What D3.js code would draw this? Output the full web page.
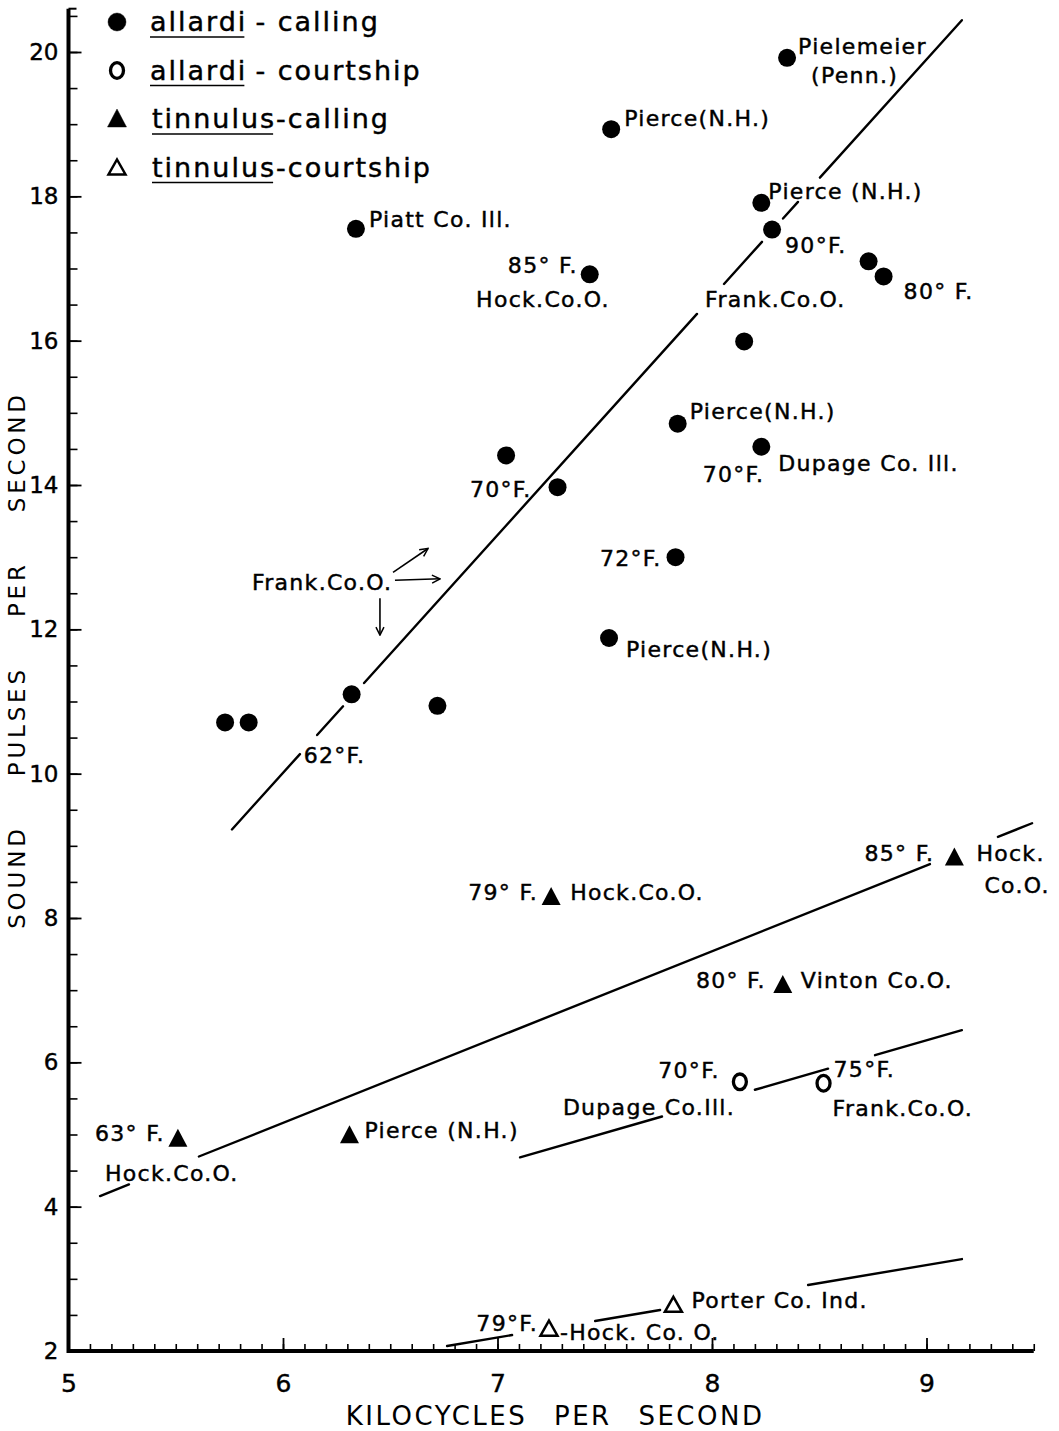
<!DOCTYPE html>
<html><head><meta charset="utf-8">
<script src="https://cdn.jsdelivr.net/npm/d3@7"></script>
<style>
html,body{margin:0;padding:0;background:#fff;}
svg{display:block;}
text{font-family:"DejaVu Sans",sans-serif;fill:#000;}
</style></head><body>
<svg id="chart" width="1059" height="1431"></svg>
<script>
// ---------------- DATA ----------------
const xTickValues = [5, 6, 7, 8, 9];
const yTickValues = [2, 4, 6, 8, 10, 12, 14, 16, 18, 20];
const xTitle = "KILOCYCLES PER SECOND";
const yTitle = "SOUND PULSES PER SECOND";

const legendSpecies = ["allardi", "allardi", "tinnulus", "tinnulus"];
const legendSong = ["calling", "courtship", "calling", "courtship"];

// allardi - calling (filled circles)
const allardiCallingX = [8.35, 7.53, 6.34, 8.23, 8.28, 7.43, 8.73, 8.80, 8.15, 7.84, 8.23, 7.04, 7.28, 7.83, 7.52, 6.32, 6.72, 5.73, 5.84];
const allardiCallingY = [19.92, 18.93, 17.55, 17.91, 17.54, 16.92, 17.10, 16.89, 15.99, 14.85, 14.53, 14.41, 13.97, 13.00, 11.88, 11.10, 10.94, 10.71, 10.71];

// allardi - courtship (open circles)
const allardiCourtX = [8.13, 8.52];
const allardiCourtY = [5.73, 5.71];

// tinnulus - calling (filled triangles)
const tinnulusCallingX = [9.13, 7.25, 8.33, 5.51, 6.31];
const tinnulusCallingY = [8.84, 8.29, 7.07, 4.94, 4.99];

// tinnulus - courtship (open triangles)
const tinnulusCourtX = [7.82, 7.24];
const tinnulusCourtY = [2.64, 2.31];

// fitted lines: end points [x, y] and the drawn pieces (x ranges)
const allardiCallingFit = [[5.763, 9.23], [9.168, 20.45]];
const allardiCallingPieces = [[5.762, 6.079], [6.159, 6.280], [6.378, 7.930], [8.056, 8.233], [8.331, 8.401], [8.503, 9.165]];
const tinnulusCallingFit = [[5.147, 4.147], [9.492, 9.313]];
const tinnulusCallingPieces = [[5.147, 5.282], [5.608, 9.016], [9.333, 9.492]];
const allardiCourtFit = [[7.105, 4.683], [9.165, 6.446]];
const allardiCourtPieces = [[7.105, 7.767], [8.200, 8.541], [8.760, 9.165]];
const tinnulusCourtFit = [[6.765, 2.069], [9.165, 3.274]];
const tinnulusCourtPieces = [[6.765, 7.068], [7.455, 7.758], [8.448, 9.165]];

// point annotations: [series, point index, text]
const annotationTexts = [
  ["ac", 0, "Pielemeier"], ["ac", 0, "(Penn.)"],
  ["ac", 1, "Pierce(N.H.)"],
  ["ac", 2, "Piatt Co. Ill."],
  ["ac", 3, "Pierce (N.H.)"],
  ["ac", 4, "90°F."], ["ac", 4, "Frank.Co.O."],
  ["ac", 5, "85° F."], ["ac", 5, "Hock.Co.O."],
  ["ac", 7, "80° F."],
  ["ac", 9, "Pierce(N.H.)"],
  ["ac", 10, "Dupage Co. Ill."], ["ac", 10, "70°F."],
  ["ac", 12, "70°F."],
  ["ac", 13, "72°F."],
  ["ac", 14, "Pierce(N.H.)"],
  ["ac", 15, "62°F."],
  ["tc", 0, "85° F."], ["tc", 0, "Hock."], ["tc", 0, "Co.O."],
  ["tc", 1, "79° F."], ["tc", 1, "Hock.Co.O."],
  ["tc", 2, "80° F."], ["tc", 2, "Vinton Co.O."],
  ["tc", 3, "63° F."], ["tc", 3, "Hock.Co.O."],
  ["tc", 4, "Pierce (N.H.)"],
  ["ao", 0, "70°F."], ["ao", 0, "Dupage Co.Ill."],
  ["ao", 1, "75°F."], ["ao", 1, "Frank.Co.O."],
  ["to", 0, "Porter Co. Ind."],
  ["to", 1, "79°F."], ["to", 1, "-Hock. Co. O."]
];
// free note with arrows (data coordinates)
const arrowNoteText = "Frank.Co.O.";
const arrowNoteAt = [5.855, 12.54];
const arrowStarts = [[6.513, 12.79], [6.522, 12.68], [6.452, 12.43]];
const arrowEnds = [[6.676, 13.12], [6.732, 12.70], [6.452, 11.92]];

// ---------------- LAYOUT (pixel offsets, styles) ----------------
const labelLayout = [
  [11, -4, "start"], [24, 25, "start"],
  [13, -3, "start"],
  [13, -2, "start"],
  [7, -4, "start"],
  [13, 23, "start"], [-67, 77, "start"],
  [-12, -1, "end"], [20, 33, "end"],
  [20, 23, "start"],
  [12, -5, "start"],
  [17, 24, "start"], [3, 35, "end"],
  [-26, 10, "end"],
  [-14, 9, "end"],
  [17, 19, "start"],
  [-48, 69, "start"],
  [-20, 4, "end"], [22, 4, "start"], [30, 36, "start"],
  [-13, 3, "end"], [19, 3, "start"],
  [-17, 3, "end"], [18, 3, "start"],
  [-13, 2, "end"], [-73, 42, "start"],
  [15, 3, "start"],
  [-20, -4, "end"], [-177, 33, "start"],
  [10, -6, "start"], [9, 33, "start"],
  [18, 3, "start"],
  [-11, 2, "end"], [11, 11, "start"]
];

const svg = d3.select("#chart");
const x = d3.scaleLinear().domain([5, 9.5]).range([68.5, 1033.75]);
const y = d3.scaleLinear().domain([2, 20]).range([1351, 52]);

const defs = svg.append("defs");
defs.append("marker").attr("id", "ah").attr("viewBox", "0 0 10 10")
  .attr("refX", 9).attr("refY", 5).attr("markerWidth", 10).attr("markerHeight", 10)
  .attr("markerUnits", "userSpaceOnUse").attr("orient", "auto")
  .append("path").attr("d", "M1,1L9,5L1,9").attr("fill", "none").attr("stroke", "#000").attr("stroke-width", 1.5);

// ---------- axes ----------
const minorX = d3.range(50, 96).map(d => d / 10);
svg.append("g").attr("transform", `translate(0,${y(2)})`)
  .call(d3.axisBottom(x).tickValues(minorX).tickSize(-7).tickFormat(""))
  .call(g => g.select(".domain").remove())
  .call(g => g.selectAll("line").attr("stroke-width", 1.6));
svg.append("g").attr("transform", `translate(0,${y(2)})`)
  .call(d3.axisBottom(x).tickValues(xTickValues).tickSize(-13).tickPadding(23).tickFormat(d3.format("d")))
  .call(g => g.select(".domain").remove())
  .call(g => g.selectAll("line").attr("stroke-width", 1.8))
  .call(g => g.selectAll("text").attr("font-size", 25).attr("font-family", "DejaVu Sans")
    .attr("stroke", "#000").attr("stroke-width", 0.4));

const minorY = d3.range(4, 42).map(d => d / 2);
svg.append("g").attr("transform", `translate(${x(5)},0)`)
  .call(d3.axisLeft(y).tickValues(minorY).tickSize(-9).tickFormat(""))
  .call(g => g.select(".domain").remove())
  .call(g => g.selectAll("line").attr("stroke-width", 1.6));
svg.append("g").attr("transform", `translate(${x(5)},0)`)
  .call(d3.axisLeft(y).tickValues(yTickValues).tickSize(-13).tickPadding(10).tickFormat(d3.format("d")))
  .call(g => g.select(".domain").remove())
  .call(g => g.selectAll("line").attr("stroke-width", 1.8))
  .call(g => g.selectAll("text").attr("font-size", 23).attr("font-family", "DejaVu Sans")
    .attr("stroke", "#000").attr("stroke-width", 0.4));

svg.append("line").attr("x1", x(5) - 1.5).attr("x2", x(9.5)).attr("y1", y(2)).attr("y2", y(2))
  .attr("stroke", "#000").attr("stroke-width", 4);
svg.append("line").attr("x1", x(5)).attr("x2", x(5)).attr("y1", y(2) + 2).attr("y2", y(20.6))
  .attr("stroke", "#000").attr("stroke-width", 4);
svg.append("line").attr("x1", x(5)).attr("x2", x(5) + 8).attr("y1", y(20.6)).attr("y2", y(20.6))
  .attr("stroke", "#000").attr("stroke-width", 2);

// axis titles
svg.append("text").attr("x", (x(5) + x(9.5)) / 2 + 4).attr("y", 1425).attr("text-anchor", "middle")
  .attr("font-family", "DejaVu Sans Condensed, DejaVu Sans").attr("font-size", 26)
  .attr("letter-spacing", 2.5).attr("word-spacing", 16).text(xTitle);
svg.append("text").attr("transform", `translate(25,${660}) rotate(-90)`).attr("text-anchor", "middle")
  .attr("font-size", 23).attr("letter-spacing", 3.8).attr("word-spacing", 38).text(yTitle);

// ---------- fit lines ----------
function drawFit(fit, pieces) {
  const [[x0, y0], [x1, y1]] = fit;
  const f = v => y0 + (v - x0) * (y1 - y0) / (x1 - x0);
  svg.append("g").selectAll("line").data(pieces).join("line")
    .attr("x1", d => x(d[0])).attr("y1", d => y(f(d[0])))
    .attr("x2", d => x(d[1])).attr("y2", d => y(f(d[1])))
    .attr("stroke", "#000").attr("stroke-width", 2.4).attr("stroke-linecap", "round");
}
drawFit(allardiCallingFit, allardiCallingPieces);
drawFit(tinnulusCallingFit, tinnulusCallingPieces);
drawFit(allardiCourtFit, allardiCourtPieces);
drawFit(tinnulusCourtFit, tinnulusCourtPieces);

// ---------- markers ----------
const triFilled = "M0,-10L9.5,8L-9.5,8Z";
const triOpen = "M0,-8L8.5,7L-8.5,7Z";
function drawMarker(g, kind) {
  if (kind === 0) g.append("circle").attr("r", 9).attr("fill", "#000");
  else if (kind === 1) g.append("ellipse").attr("rx", 6.5).attr("ry", 7.8).attr("fill", "#fff").attr("stroke", "#000").attr("stroke-width", 3.3);
  else if (kind === 2) g.append("path").attr("d", triFilled).attr("fill", "#000");
  else g.append("path").attr("d", triOpen).attr("fill", "#fff").attr("stroke", "#000").attr("stroke-width", 2.5).attr("stroke-linejoin", "miter");
}
const series = {
  ac: [allardiCallingX, allardiCallingY, 0],
  ao: [allardiCourtX, allardiCourtY, 1],
  tc: [tinnulusCallingX, tinnulusCallingY, 2],
  to: [tinnulusCourtX, tinnulusCourtY, 3]
};
Object.values(series).forEach(([xs, ys, kind]) => {
  xs.forEach((v, i) => {
    const g = svg.append("g").attr("transform", `translate(${x(v)},${y(ys[i])})`);
    drawMarker(g, kind);
  });
});

// ---------- annotations ----------
const labelG = svg.append("g").attr("font-size", 22).attr("letter-spacing", 1.3)
  .attr("stroke", "#000").attr("stroke-width", 0.45);
annotationTexts.forEach((a, k) => {
  const [s, i, t] = a;
  const [xs, ys] = series[s];
  const [dx, dy, anchor] = labelLayout[k];
  labelG.append("text").attr("x", x(xs[i]) + dx).attr("y", y(ys[i]) + dy)
    .attr("text-anchor", anchor).text(t);
});
labelG.append("text").attr("x", x(arrowNoteAt[0])).attr("y", y(arrowNoteAt[1])).text(arrowNoteText);
svg.append("g").selectAll("line").data(arrowStarts).join("line")
  .attr("x1", d => x(d[0])).attr("y1", d => y(d[1]))
  .attr("x2", (d, i) => x(arrowEnds[i][0])).attr("y2", (d, i) => y(arrowEnds[i][1]))
  .attr("stroke", "#000").attr("stroke-width", 1.6).attr("marker-end", "url(#ah)");

// ---------- legend ----------
const legG = svg.append("g").attr("stroke", "#000").attr("stroke-width", 0.45);
legendSpecies.forEach((sp, i) => {
  const cy = 22 + i * 48.5;
  const mg = legG.append("g").attr("transform", `translate(117,${cy})`);
  drawMarker(mg, i);
  const tx = i < 2 ? 150 : 152;
  const t1 = legG.append("text").attr("x", tx).attr("y", cy + 9).attr("font-size", 27).attr("letter-spacing", 2).text(sp);
  const w = t1.node().getComputedTextLength();
  legG.append("line").attr("x1", tx).attr("x2", tx + w - 3).attr("y1", cy + 15).attr("y2", cy + 15)
    .attr("stroke", "#000").attr("stroke-width", 1.7);
  legG.append("text").attr("x", tx + w + (i < 2 ? 8 : 0)).attr("y", cy + 9).attr("font-size", 27)
    .attr("letter-spacing", 2).text((i < 2 ? "- " : "-") + legendSong[i]);
});
</script>
</body></html>
